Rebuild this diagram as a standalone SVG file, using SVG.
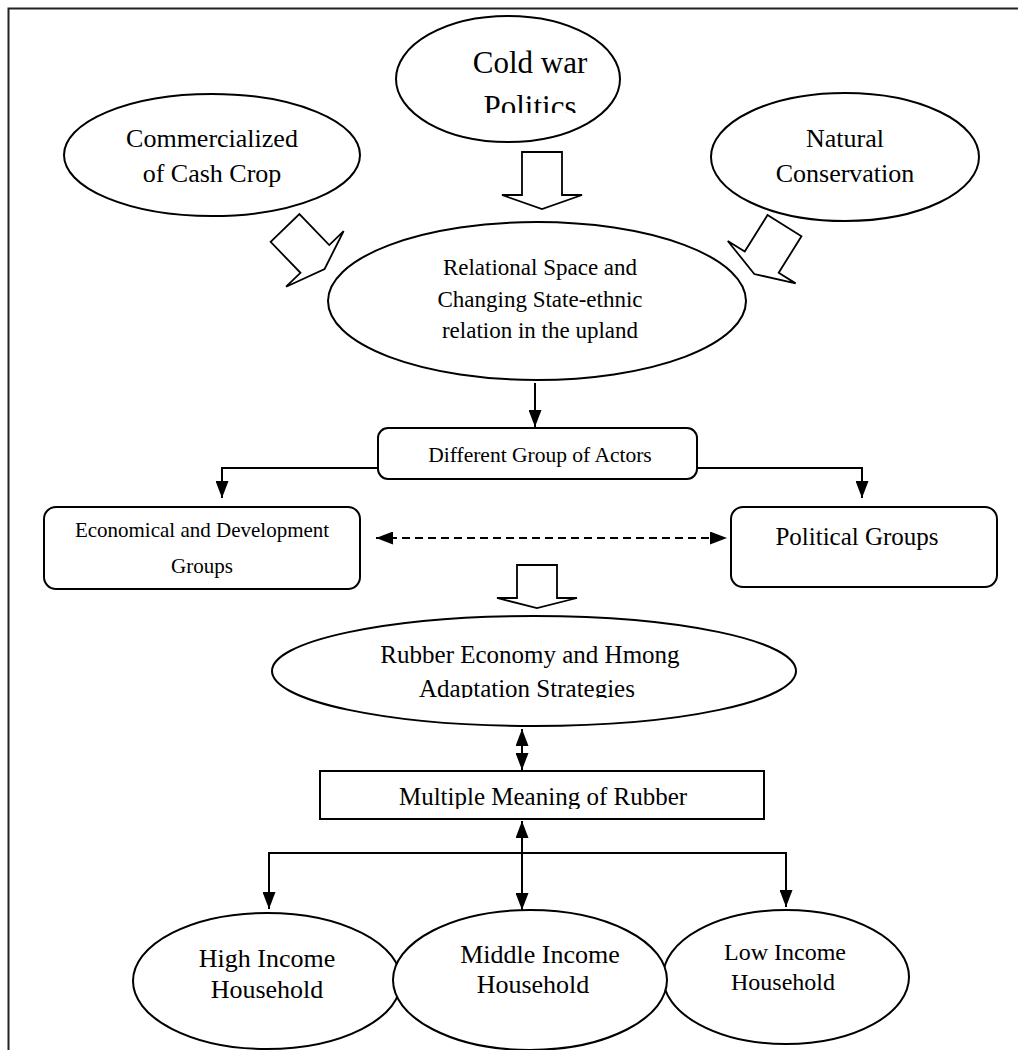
<svg xmlns="http://www.w3.org/2000/svg" width="1018" height="1050" viewBox="0 0 1018 1050">
<style>
.n{fill:#fff;stroke:#000;stroke-width:2}
.b{fill:none;stroke:#000;stroke-width:1.8;stroke-linejoin:miter}
.t{font-family:"Liberation Serif","Times New Roman",serif;fill:#000;text-anchor:middle}
.c{fill:none;stroke:#000;stroke-width:2}
</style>
<defs>
<marker id="ah" markerUnits="userSpaceOnUse" markerWidth="17" markerHeight="13" refX="17" refY="6.5" orient="auto-start-reverse"><path d="M0,0 L17,6.5 L0,13 z" fill="#000"/></marker>
<clipPath id="clipCold"><rect x="390" y="10" width="240" height="103"/></clipPath>
<clipPath id="clipRub"><rect x="270" y="615" width="540" height="83"/></clipPath>
<clipPath id="clipMul"><rect x="320" y="772" width="444" height="37"/></clipPath>
</defs>
<rect width="1018" height="1050" fill="#fff"/>
<path d="M8.5,1050 V8.5 H1018" fill="none" stroke="#222" stroke-width="2"/>

<g id="node-commercialized">
<ellipse class="n" cx="212" cy="155" rx="148" ry="61"/>
<text class="t" x="212" y="147" font-size="26">Commercialized</text>
<text class="t" x="212" y="182" font-size="26">of Cash Crop</text>
</g>
<g id="node-coldwar">
<ellipse class="n" cx="508" cy="79" rx="112" ry="63"/>
<g clip-path="url(#clipCold)">
<text class="t" x="530" y="73" font-size="31">Cold war</text>
<text class="t" x="530" y="117" font-size="31">Politics</text>
</g>
</g>
<g id="node-natural">
<ellipse class="n" cx="845" cy="157" rx="134" ry="64"/>
<text class="t" x="845" y="147" font-size="26">Natural</text>
<text class="t" x="845" y="182" font-size="26">Conservation</text>
</g>
<g id="node-relational">
<ellipse class="n" cx="537" cy="301" rx="209" ry="79"/>
<text class="t" x="540" y="275" font-size="23">Relational Space and</text>
<text class="t" x="540" y="307" font-size="23">Changing State-ethnic</text>
<text class="t" x="540" y="338" font-size="23">relation in the upland</text>
</g>
<g id="node-actors">
<rect class="n" x="378" y="428" width="319" height="51" rx="10"/>
<text class="t" x="540" y="462" font-size="21.5">Different Group of Actors</text>
</g>
<g id="node-economic">
<rect class="n" x="44" y="507" width="316" height="82" rx="12"/>
<text class="t" x="202" y="537" font-size="21">Economical and Development</text>
<text class="t" x="202" y="573" font-size="21">Groups</text>
</g>
<g id="node-political">
<rect class="n" x="731" y="507" width="266" height="80" rx="12"/>
<text class="t" x="857" y="545" font-size="25">Political Groups</text>
</g>
<g id="node-rubber">
<ellipse class="n" cx="534" cy="671" rx="262" ry="55"/>
<g clip-path="url(#clipRub)">
<text class="t" x="530" y="663" font-size="25">Rubber Economy and Hmong</text>
<text class="t" x="527" y="697" font-size="25">Adaptation Strategies</text>
</g>
</g>
<g id="node-meaning">
<rect class="n" x="320" y="771" width="444" height="48"/>
<g clip-path="url(#clipMul)">
<text class="t" x="543" y="805" font-size="25">Multiple Meaning of Rubber</text>
</g>
</g>
<g id="node-high">
<ellipse class="n" cx="267" cy="981" rx="134" ry="68"/>
<text class="t" x="267" y="967" font-size="26">High Income</text>
<text class="t" x="267" y="998" font-size="26">Household</text>
</g>
<g id="node-low">
<ellipse class="n" cx="786" cy="977" rx="123" ry="67"/>
<text class="t" x="785" y="960" font-size="24">Low Income</text>
<text class="t" x="783" y="990" font-size="24">Household</text>
</g>
<g id="node-middle">
<ellipse class="n" cx="530" cy="980" rx="137" ry="70"/>
<text class="t" x="540" y="963" font-size="26">Middle Income</text>
<text class="t" x="533" y="993" font-size="26">Household</text>
</g>

<g id="connectors">
<polygon class="b" points="522,152 562,152 562,195 582,195 542,209 502,195 522,195"/>
<polygon class="b" transform="translate(285,228) rotate(-44)" points="-20,0 20,0 20,43 40,43 0,57 -40,43 -20,43"/>
<polygon class="b" transform="translate(784.5,225.7) rotate(32)" points="-20,0 20,0 20,43 40,43 0,57 -40,43 -20,43"/>
<polygon class="b" points="517,565 557,565 557,598 577,598 537,608 497,598 517,598"/>
<line class="c" x1="535" y1="383" x2="535" y2="427" marker-end="url(#ah)"/>
<polyline class="c" points="378,468 222,468 222,498" marker-end="url(#ah)"/>
<polyline class="c" points="697,468 862,468 862,498" marker-end="url(#ah)"/>
<line class="c" x1="376" y1="538" x2="727" y2="538" stroke-dasharray="8 5" marker-start="url(#ah)" marker-end="url(#ah)"/>
<line class="c" x1="522" y1="729" x2="522" y2="770" marker-start="url(#ah)" marker-end="url(#ah)"/>
<line class="c" x1="522" y1="821" x2="522" y2="910" marker-start="url(#ah)" marker-end="url(#ah)"/>
<polyline class="c" points="522,853 269,853 269,909" marker-end="url(#ah)"/>
<polyline class="c" points="522,853 786,853 786,907" marker-end="url(#ah)"/>
</g>
</svg>
